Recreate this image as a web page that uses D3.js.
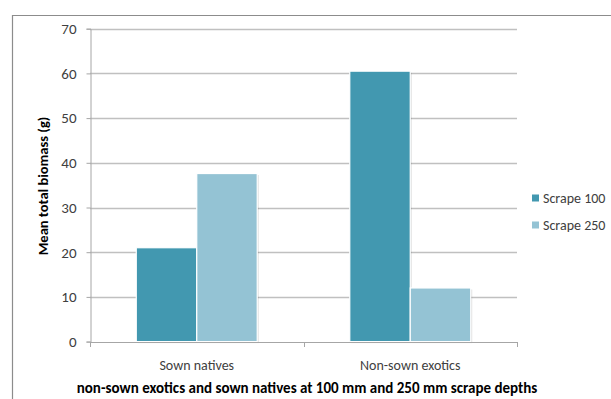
<!DOCTYPE html>
<html><head><meta charset="utf-8">
<script src="https://cdn.jsdelivr.net/npm/d3@7"></script>
<style>body{margin:0;background:#fff}svg{display:block;font-family:Carlito,Lato,"Open Sans",sans-serif}</style>
</head><body><svg id="c" width="611" height="399"></svg>
<script>
const categories = ["Sown natives", "Non-sown exotics"];
const seriesNames = ["Scrape 100", "Scrape 250"];
const scrape100 = [21, 60.5];
const scrape250 = [37.6, 12];
const yTicks = [0, 10, 20, 30, 40, 50, 60, 70];
const colors = ["#4298B0", "#94C3D4"];
const yTitle = "Mean total biomass (g)";
const xTitle = "non-sown exotics and sown natives at 100 mm and 250 mm scrape depths";

const svg = d3.select("#c");
const M = {l: 90, r: 517, t: 28.7, b: 341.6};
// outer border
svg.append("path").attr("d", `M12.5,${399} V15.5 H611`).attr("fill","none").attr("stroke","#8c8c8c").attr("stroke-width",1.2);

const x = d3.scaleBand().domain(categories).range([M.l, M.r]);
const x1 = d3.scaleBand().domain(seriesNames).range([0, x.bandwidth()]).paddingOuter(0.765).paddingInner(0.0);
const y = d3.scaleLinear().domain([0, 70]).range([M.b, M.t]);

// gridlines
svg.append("g").selectAll("line").data(yTicks.filter(d=>d>0)).join("line")
  .attr("x1", M.l).attr("x2", M.r).attr("y1", d=>Math.round(y(d))+0.5).attr("y2", d=>Math.round(y(d))+0.5)
  .attr("stroke", "#c0c0c0").attr("stroke-width", 1.3);

// y axis
const ya = svg.append("g").attr("transform", `translate(${M.l+0.5},0)`)
  .call(d3.axisLeft(y).tickValues(yTicks).tickSize(4).tickPadding(10).tickFormat(d3.format("d")));
ya.select(".domain").attr("stroke", "#a6a6a6");
ya.selectAll(".tick line").attr("stroke", "#a6a6a6");
ya.selectAll("text").attr("font-size", 15).attr("fill", "#404040").attr("font-family", "Carlito,Lato,sans-serif");

// bars
const data = categories.map((c,i)=>({c, vals:[scrape100[i], scrape250[i]]}));
const g = svg.append("g");
data.forEach(d=>{
  d.vals.forEach((v,j)=>{
    const bx = x(d.c) + x1(seriesNames[j]);
    g.append("rect").attr("x", bx+1.5).attr("y", y(v)+1.5).attr("width", x1.bandwidth()).attr("height", y(0)-y(v))
      .attr("fill", "#000").attr("opacity", 0.12);
    g.append("rect").attr("x", bx).attr("y", y(v)).attr("width", x1.bandwidth()).attr("height", y(0)-y(v))
      .attr("fill", colors[j]).attr("stroke", "#fff").attr("stroke-width", 1.2);
  });
});

// x axis
const xa = svg.append("g").attr("transform", `translate(0,${Math.round(M.b)+0.5})`)
  .call(d3.axisBottom(x).tickSize(0).tickPadding(18));
xa.select(".domain").remove();
xa.selectAll("text").attr("font-size", 14).attr("fill", "#404040").attr("font-family", "Carlito,Lato,sans-serif");
svg.append("line").attr("x1", M.l).attr("x2", M.r).attr("y1", Math.round(M.b)+0.5).attr("y2", Math.round(M.b)+0.5).attr("stroke","#a6a6a6");
svg.append("g").selectAll("line").data([M.l, (M.l+M.r)/2, M.r]).join("line")
  .attr("x1", d=>Math.round(d)+0.5).attr("x2", d=>Math.round(d)+0.5).attr("y1", Math.round(M.b)).attr("y2", Math.round(M.b)+5)
  .attr("stroke","#a6a6a6");

// titles
svg.append("text").attr("transform", "translate(48,186) rotate(-90)").attr("text-anchor","middle")
  .attr("font-size", 14.5).attr("font-weight","bold").attr("fill","#000").text(yTitle);
svg.append("text").attr("x", 307).attr("y", 393).attr("text-anchor","middle")
  .attr("font-size", 15).attr("font-weight","bold").attr("fill","#000").text(xTitle);

// legend
const lg = svg.append("g");
seriesNames.forEach((s,i)=>{
  const yy = 198 + i*27;
  lg.append("rect").attr("x", 532).attr("y", yy-3.5).attr("width", 7).attr("height", 7).attr("fill", colors[i]);
  lg.append("text").attr("x", 543).attr("y", yy+5).attr("font-size", 14).attr("fill","#404040").text(s);
});
</script></body></html>
